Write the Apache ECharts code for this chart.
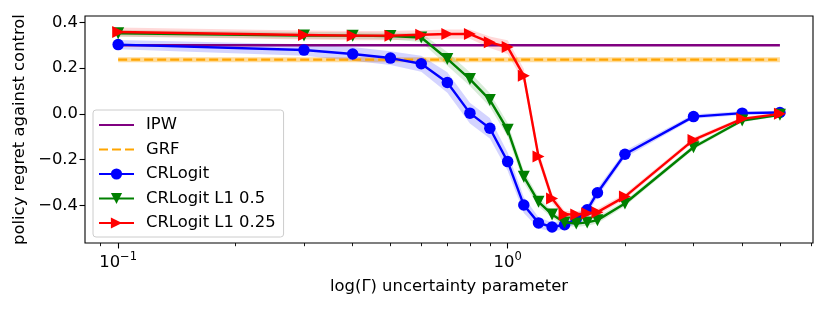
<!DOCTYPE html>
<html><head><meta charset="utf-8">
<script src="https://cdn.jsdelivr.net/npm/echarts@6/dist/echarts.min.js"></script>
<style>html,body{margin:0;padding:0;background:#fff}#c{width:831px;height:309px}</style>
</head><body><div id="c"></div>
<script>
const gammas = [0.1,0.3,0.4,0.5,0.6,0.7,0.8,0.9,1.0,1.1,1.2,1.3,1.4,1.5,1.6,1.7,2,3,4,5];
const crlogit = [0.303,0.279,0.262,0.244,0.219,0.137,0.003,-0.063,-0.209,-0.399,-0.477,-0.495,-0.485,-0.46,-0.42,-0.345,-0.177,-0.012,0.003,0.006];
const crlogitBand = [0.02,0.025,0.03,0.03,0.035,0.045,0.045,0.045,0.04,0.035,0.025,0.02,0.02,0.02,0.02,0.02,0.015,0.01,0.008,0.006];
const crlogitL05 = [0.352,0.343,0.342,0.340,0.334,0.240,0.152,0.061,-0.070,-0.275,-0.385,-0.44,-0.475,-0.48,-0.475,-0.465,-0.392,-0.146,-0.029,-0.004];
const crlogitL05Band = [0.015,0.015,0.015,0.015,0.02,0.03,0.03,0.03,0.03,0.025,0.02,0.015,0.015,0.015,0.015,0.015,0.012,0.01,0.008,0.006];
const crlogitL025 = [0.358,0.345,0.342,0.342,0.346,0.349,0.349,0.313,0.292,0.167,-0.187,-0.37,-0.44,-0.44,-0.435,-0.43,-0.362,-0.114,-0.022,0.0];
const crlogitL025Band = [0.02,0.02,0.02,0.02,0.02,0.02,0.02,0.025,0.03,0.03,0.025,0.02,0.015,0.015,0.015,0.015,0.012,0.01,0.008,0.006];
const ipwValue = 0.30;
const grfValue = 0.237;
const grfBand = 0.011;
const xMajorTicks = [0.1, 1];
const xMinorTicks = [0.09,0.2,0.3,0.4,0.5,0.6,0.7,0.8,0.9,2,3,4,5,6];
const yTicks = [-0.4,-0.2,0.0,0.2,0.4];

const FONT = 'DejaVu Sans';
const FS = 16.4;
const chart = echarts.init(document.getElementById('c'), null, {renderer:'canvas'});

function pairs(ys){ return gammas.map((g,i)=>[g, ys[i]]); }
function bandSeries(ys, hw, color){
  return {
    type:'custom', silent:true, clip:true, z:1,
    data:[[1,0]],
    renderItem:function(params, api){
      const upper = gammas.map((g,i)=>api.coord([g, ys[i]+hw[i]]));
      const lower = gammas.map((g,i)=>api.coord([g, ys[i]-hw[i]])).reverse();
      return {type:'polygon', shape:{points: upper.concat(lower)}, style:{fill: color}};
    }
  };
}
function flatBand(y, hw, color){
  return {
    type:'custom', silent:true, clip:true, z:1,
    data:[[1,0]],
    renderItem:function(params, api){
      const x0 = gammas[0], x1 = gammas[gammas.length-1];
      const pts = [api.coord([x0,y+hw]), api.coord([x1,y+hw]), api.coord([x1,y-hw]), api.coord([x0,y-hw])];
      return {type:'polygon', shape:{points: pts}, style:{fill: color}};
    }
  };
}
const minus = v => v.replace('-', '\u2212');

chart.setOption({
  animation:false,
  textStyle:{fontFamily:FONT},
  grid:{left:85, right:18, top:16, bottom:66, show:true, borderColor:'#000', borderWidth:1.1, backgroundColor:'transparent'},
  legend:{
    orient:'vertical', left:93, top:110,
    padding:[7,8,6,5], itemGap:8.5, itemWidth:35, itemHeight:14,
    borderColor:'#cccccc', borderWidth:1, borderRadius:3, backgroundColor:'rgba(255,255,255,0.8)',
    textStyle:{fontFamily:FONT, fontSize:FS, color:'#000', lineHeight:14, padding:[0,0,0,7]},
    data:[{name:'IPW', itemStyle:{opacity:0}}, {name:'GRF', itemStyle:{opacity:0}}, 'CRLogit','CRLogit L1 0.5','CRLogit L1 0.25']
  },
  xAxis:[{
    type:'log', logBase:10, min:0.0822, max:6.08,
    name:'log(\u0393) uncertainty parameter', nameLocation:'middle', nameGap:36,
    nameTextStyle:{fontFamily:FONT, fontSize:FS, color:'#000'},
    axisLine:{show:false, onZero:false},
    splitLine:{show:false},
    axisTick:{show:true, customValues:xMajorTicks, length:5.5, lineStyle:{color:'#000', width:1.1}},
    axisLabel:{show:true, customValues:xMajorTicks, margin:8, color:'#000',
      formatter:function(v){ const e = Math.round(Math.log10(v)); return '{b|10}{s|' + minus(String(e)) + '}'; },
      rich:{b:{fontFamily:FONT, fontSize:FS, color:'#000', lineHeight:20, verticalAlign:'bottom'}, s:{fontFamily:FONT, fontSize:11.5, color:'#000', lineHeight:20, verticalAlign:'top', padding:[0,0,7,0]}}
    }
  },{
    type:'log', logBase:10, min:0.0822, max:6.08, position:'bottom',
    axisLine:{show:false, onZero:false}, splitLine:{show:false},
    axisTick:{show:true, customValues:xMinorTicks, length:3.2, lineStyle:{color:'#000', width:0.9}},
    axisLabel:{show:false}
  }],
  yAxis:{
    type:'value', min:-0.565, max:0.428,
    name:'policy regret against control', nameLocation:'middle', nameGap:56,
    nameTextStyle:{fontFamily:FONT, fontSize:FS, color:'#000'},
    axisLine:{show:false, onZero:false}, splitLine:{show:false},
    axisTick:{show:true, customValues:yTicks, length:5.5, lineStyle:{color:'#000', width:1.1}},
    axisLabel:{show:true, customValues:yTicks, margin:7, color:'#000', fontFamily:FONT, fontSize:FS,
      formatter:function(v){ return minus(v.toFixed(1)); }}
  },
  series:[
    {name:'IPW', type:'line', data:[[gammas[0], ipwValue],[gammas[gammas.length-1], ipwValue]], symbol:'none', z:3,
      lineStyle:{color:'#800080', width:2.4}, itemStyle:{color:'#800080'}},
    flatBand(grfValue, grfBand, 'rgba(255,165,0,0.4)'),
    {name:'GRF', type:'line', data:[[gammas[0], grfValue],[gammas[gammas.length-1], grfValue]], symbol:'none', z:3,
      lineStyle:{color:'#FFA500', width:2.4, type:[9,4]}, itemStyle:{color:'#FFA500'}},
    bandSeries(crlogit, crlogitBand, 'rgba(0,0,255,0.17)'),
    {name:'CRLogit', type:'line', data:pairs(crlogit), symbol:'circle', symbolSize:11.5, z:4,
      lineStyle:{color:'#0000FF', width:2.4}, itemStyle:{color:'#0000FF'}},
    bandSeries(crlogitL05, crlogitL05Band, 'rgba(0,128,0,0.15)'),
    {name:'CRLogit L1 0.5', type:'line', data:pairs(crlogitL05), symbol:'triangle', symbolRotate:180, symbolSize:12, z:5,
      lineStyle:{color:'#008000', width:2.4}, itemStyle:{color:'#008000'}},
    bandSeries(crlogitL025, crlogitL025Band, 'rgba(255,0,0,0.15)'),
    {name:'CRLogit L1 0.25', type:'line', data:pairs(crlogitL025), symbol:'triangle', symbolRotate:-90, symbolSize:12, z:6,
      lineStyle:{color:'#FF0000', width:2.4}, itemStyle:{color:'#FF0000'}}
  ]
});
</script></body></html>
